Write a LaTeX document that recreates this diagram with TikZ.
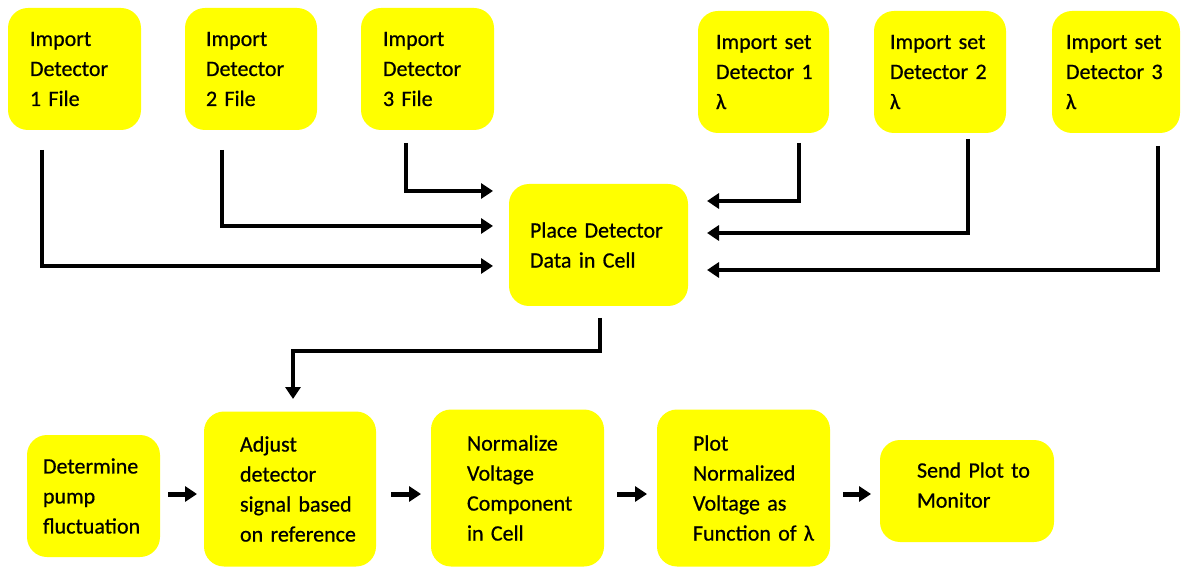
\documentclass[tikz,border=0pt]{standalone}
\usepackage{fontspec}
\setmainfont{Carlito}
\newfontfamily\boxfont{Carlito}[FakeBold=0.6]
\usetikzlibrary{arrows.meta}
\definecolor{boxyellow}{HTML}{FFFF00}
\hyphenpenalty=10000
\exhyphenpenalty=10000
\begin{document}
\begin{tikzpicture}[x=1pt,y=-1pt,
  box/.style={fill=boxyellow, rounded corners=20pt, inner sep=0pt, align=left,
    font=\boxfont\fontsize{22}{30}\selectfont},
  conn/.style={line width=4.5pt, -{Triangle[width=15pt,length=12pt]}},
  small/.style={line width=5pt, -{Triangle[width=15pt,length=12pt]}}]
\useasboundingbox (0,0) rectangle (1181,569);
% top row
\node[box, minimum width=133, minimum height=122, text width=89] (b1) at (74.5,69) {Import\\Detector\\1~File};
\node[box, minimum width=132, minimum height=122, text width=90] (b2) at (251,69) {Import\\Detector\\2~File};
\node[box, minimum width=133, minimum height=122, text width=89] (b3) at (427.5,69) {Import\\Detector\\3~File};
\node[box, minimum width=131, minimum height=122, text width=95] (b4) at (763.5,72) {Import~set\\Detector~1\\λ};
\node[box, minimum width=132, minimum height=122, text width=100] (b5) at (940,72) {Import~set\\Detector~2\\λ};
\node[box, minimum width=128, minimum height=122, text width=100] (b6) at (1116,72) {Import~set\\Detector~3\\λ};
% center
\node[box, minimum width=179, minimum height=122, text width=137] (c) at (598.5,245) {Place~Detector\\Data~in~Cell};
% bottom row
\node[box, minimum width=133, minimum height=122, text width=101] (d1) at (93.5,496) {Determine\\pump\\fluctuation};
\node[box, minimum width=172, minimum height=155, text width=100] (d2) at (290,489) {Adjust\\detector\\signal~based\\on~reference};
\node[box, minimum width=173, minimum height=157, text width=101] (d3) at (517.5,488) {Normalize\\Voltage\\Component\\in~Cell};
\node[box, minimum width=173, minimum height=157, text width=101] (d4) at (743.5,488) {Plot\\Normalized\\Voltage~as\\Function~of~λ};
\node[box, minimum width=174, minimum height=102, text width=100] (d5) at (967,491) {Send~Plot~to\\Monitor\rule[-12pt]{0pt}{0pt}};
% connector ends
\coordinate (s1) at (42,150);  \coordinate (e1) at (493,266);
\coordinate (s2) at (222,150); \coordinate (e2) at (493,226);
\coordinate (s3) at (406,143); \coordinate (e3) at (493,191);
\coordinate (s4) at (799,143); \coordinate (e4) at (707,201);
\coordinate (s5) at (968,139); \coordinate (e5) at (707,233);
\coordinate (s6) at (1158,146); \coordinate (e6) at (707,270);
\coordinate (s7) at (600,318); \coordinate (e7) at (293,399);
\draw[conn] (s1) |- (e1);
\draw[conn] (s2) |- (e2);
\draw[conn] (s3) |- (e3);
\draw[conn] (s4) |- (e4);
\draw[conn] (s5) |- (e5);
\draw[conn] (s6) |- (e6);
\draw[conn] (s7) -- ++(0,33) -| (e7);
% small arrows
\coordinate (a1) at (168,494); \coordinate (a2) at (197,494);
\coordinate (a3) at (391,494); \coordinate (a4) at (421,494);
\coordinate (a5) at (617,494); \coordinate (a6) at (647,494);
\coordinate (a7) at (843,494); \coordinate (a8) at (871,494);
\draw[small] (a1) -- (a2);
\draw[small] (a3) -- (a4);
\draw[small] (a5) -- (a6);
\draw[small] (a7) -- (a8);
\end{tikzpicture}
\end{document}
